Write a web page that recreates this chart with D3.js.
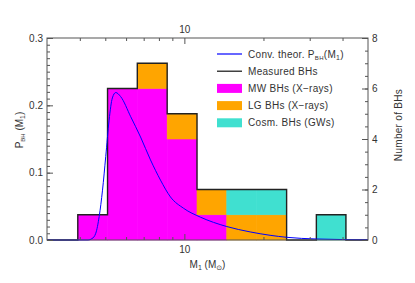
<!DOCTYPE html>
<html>
  <head>
    <meta charset="utf-8">
    <title>BH mass distribution</title>
    <style>
      body { margin: 0; background: #fff; }
      text { font-family: "Liberation Sans", Arial, sans-serif; fill: #333; }
    </style>
  </head>
  <body>
    <script src="https://d3js.org/d3.v7.min.js"></script>
    <svg id="chart" width="415" height="283"></svg>
    <script>
      // histogram bin edges (solar masses) and counts per bin
      const binEdges = [3.93, 5.10, 6.62, 8.60, 11.17, 14.5, 18.8, 24.5, 31.8, 41.2]
      const mwCounts = [1, 6, 6, 4, 1, 0, 0, 0, 0]
      const lgCounts = [0, 0, 1, 1, 1, 1, 1, 0, 0]
      const cosmCounts = [0, 0, 0, 0, 0, 1, 1, 0, 1]

      // convolved theoretical distribution
      const curveMass = [3, 4.3, 4.45, 4.6, 4.74, 4.88, 5.02, 5.17, 5.32, 5.48, 5.72, 6.25, 6.81, 7.43, 8.11, 8.85, 9.94, 11.5, 14.5, 17.8, 21.2, 24.5, 31.9, 50]
      const curveP = [0, 0, 0.002, 0.010, 0.035, 0.074, 0.124, 0.178, 0.211, 0.219, 0.213, 0.183, 0.153, 0.119, 0.089, 0.064, 0.047, 0.034, 0.020, 0.012, 0.007, 0.004, 0.0015, 0.0003]

      const xMinorTicks = [4, 5, 6, 7, 8, 9, 20, 30, 40]
      const xMajorTicks = [10]
      const leftTicks = [0, 0.1, 0.2, 0.3]
      const rightTicks = [0, 2, 4, 6, 8]

      const legendItems = [
        { label: 'Conv. theor. ', kind: 'line', color: '#0000ff' },
        { label: 'Measured BHs', kind: 'line', color: '#111' },
        { label: 'MW BHs (X\u2212rays)', kind: 'box', color: '#ff00ff' },
        { label: 'LG BHs (X\u2212rays)', kind: 'box', color: '#ffa500' },
        { label: 'Cosm. BHs (GWs)', kind: 'box', color: '#40e0d0' }
      ]

      const svg = d3.select('#chart')
      const plotLeft = 47, plotRight = 368, plotTop = 38, plotBottom = 240

      const x = d3.scaleLog().domain([3, 50]).range([plotLeft, plotRight])
      const yP = d3.scaleLinear().domain([0, 0.3]).range([plotBottom, plotTop])
      const yN = d3.scaleLinear().domain([0, 8]).range([plotBottom, plotTop])

      // stacked bars
      const rows = mwCounts.map((d, i) => ({ lo: binEdges[i], hi: binEdges[i + 1], mw: d, lg: lgCounts[i], cosm: cosmCounts[i] }))
      const stack = d3.stack().keys(['mw', 'lg', 'cosm'])(rows)
      const colors = { mw: '#ff00ff', lg: '#ffa500', cosm: '#40e0d0' }

      svg.append('g')
        .selectAll('g')
        .data(stack)
        .join('g')
          .attr('fill', d => colors[d.key])
          .attr('stroke', d => colors[d.key])
          .attr('stroke-width', 0.6)
        .selectAll('rect')
        .data(d => d.filter(s => s[1] > s[0]))
        .join('rect')
          .attr('x', d => x(d.data.lo))
          .attr('width', d => x(d.data.hi) - x(d.data.lo))
          .attr('y', d => yN(d[1]))
          .attr('height', d => yN(d[0]) - yN(d[1]))

      // outline of the measured histogram
      const totals = rows.map(r => r.mw + r.lg + r.cosm)
      const stepData = [{ m: 3, c: 0 }]
        .concat(totals.map((t, i) => ({ m: binEdges[i], c: t })))
        .concat([{ m: binEdges[binEdges.length - 1], c: 0 }, { m: 50, c: 0 }])

      svg.append('path')
        .datum(stepData)
        .attr('fill', 'none')
        .attr('stroke', '#222')
        .attr('stroke-width', 1.4)
        .attr('d', d3.line().x(d => x(d.m)).y(d => yN(d.c)).curve(d3.curveStepAfter))

      // theoretical curve
      svg.append('path')
        .datum(curveMass.map((m, i) => ({ m: m, p: curveP[i] })))
        .attr('fill', 'none')
        .attr('stroke', '#0000ff')
        .attr('stroke-width', 1)
        .attr('d', d3.line().x(d => x(d.m)).y(d => yP(d.p)).curve(d3.curveMonotoneX))

      // axes, ticks pointing inwards
      function styleAxis(g) {
        g.select('.domain').remove()
        g.selectAll('line').attr('stroke', '#555')
        g.selectAll('text').attr('font-size', 10).attr('fill', '#333').style('font-family', '"Liberation Sans", Arial, sans-serif')
      }

      svg.append('g').attr('transform', `translate(${plotLeft},0)`)
        .call(d3.axisLeft(yP).ticks(30).tickFormat('').tickSize(-3)).call(styleAxis)
      svg.append('g').attr('transform', `translate(${plotLeft},0)`)
        .call(d3.axisLeft(yP).tickValues(leftTicks).tickFormat(d3.format('.1f')).tickSize(-6).tickPadding(4)).call(styleAxis)

      svg.append('g').attr('transform', `translate(${plotRight},0)`)
        .call(d3.axisRight(yN).ticks(16).tickFormat('').tickSize(-3)).call(styleAxis)
      svg.append('g').attr('transform', `translate(${plotRight},0)`)
        .call(d3.axisRight(yN).tickValues(rightTicks).tickFormat(d3.format('d')).tickSize(-6).tickPadding(4)).call(styleAxis)

      svg.append('g').attr('transform', `translate(0,${plotTop})`)
        .call(d3.axisTop(x).tickValues(xMinorTicks).tickFormat('').tickSize(-3)).call(styleAxis)
      svg.append('g').attr('transform', `translate(0,${plotTop})`)
        .call(d3.axisTop(x).tickValues(xMajorTicks).tickFormat(d3.format('d')).tickSize(-6).tickPadding(5)).call(styleAxis)

      svg.append('g').attr('transform', `translate(0,${plotBottom})`)
        .call(d3.axisBottom(x).tickValues(xMinorTicks).tickFormat('').tickSize(-3)).call(styleAxis)
      svg.append('g').attr('transform', `translate(0,${plotBottom})`)
        .call(d3.axisBottom(x).tickValues(xMajorTicks).tickFormat(d3.format('d')).tickSize(-6).tickPadding(6)).call(styleAxis)

      svg.append('rect')
        .attr('x', plotLeft).attr('y', plotTop)
        .attr('width', plotRight - plotLeft).attr('height', plotBottom - plotTop)
        .attr('fill', 'none').attr('stroke', '#555').attr('stroke-width', 1)

      // axis titles
      const xTitle = svg.append('text')
        .attr('x', (plotLeft + plotRight) / 2).attr('y', 268)
        .attr('text-anchor', 'middle').attr('font-size', 10)
      xTitle.append('tspan').text('M')
      xTitle.append('tspan').attr('font-size', 7).attr('dy', 2).text('1')
      xTitle.append('tspan').attr('dy', -2).text(' (M')
      xTitle.append('tspan').attr('font-size', 7).attr('dy', 2).style('font-family', '"DejaVu Sans", sans-serif').text('\u2299')
      xTitle.append('tspan').attr('dy', -2).text(')')

      const yTitle = svg.append('text')
        .attr('transform', 'translate(23,130) rotate(-90)')
        .attr('text-anchor', 'middle').attr('font-size', 10)
      yTitle.append('tspan').text('P')
      yTitle.append('tspan').attr('font-size', 6).attr('dy', 2).text('BH')
      yTitle.append('tspan').attr('dy', -2).text(' (M')
      yTitle.append('tspan').attr('font-size', 7).attr('dy', 2).text('1')
      yTitle.append('tspan').attr('dy', -2).text(')')

      svg.append('text')
        .attr('transform', 'translate(402,125) rotate(-90)')
        .attr('text-anchor', 'middle').attr('font-size', 10)
        .attr('letter-spacing', 0.3)
        .text('Number of BHs')

      // legend
      const legend = svg.append('g')
        .selectAll('g')
        .data(legendItems)
        .join('g')
          .attr('transform', (d, i) => `translate(217,${54 + 17.2 * i})`)

      legend.filter(d => d.kind === 'line').append('line')
        .attr('x1', 0).attr('x2', 25)
        .attr('stroke', d => d.color).attr('stroke-width', 1.2)
      legend.filter(d => d.kind === 'box').append('rect')
        .attr('x', 0).attr('y', -4.5).attr('width', 25).attr('height', 9)
        .attr('fill', d => d.color)

      const legendText = legend.append('text')
        .attr('x', 31).attr('y', 3.5).attr('font-size', 10)
        .attr('letter-spacing', 0.3)
        .text(d => d.label)
      const first = legendText.filter((d, i) => i === 0)
      first.append('tspan').text('P')
      first.append('tspan').attr('font-size', 6).attr('dy', 2).text('BH')
      first.append('tspan').attr('dy', -2).text('(M')
      first.append('tspan').attr('font-size', 7).attr('dy', 2).text('1')
      first.append('tspan').attr('dy', -2).text(')')
    </script>
  </body>
</html>
